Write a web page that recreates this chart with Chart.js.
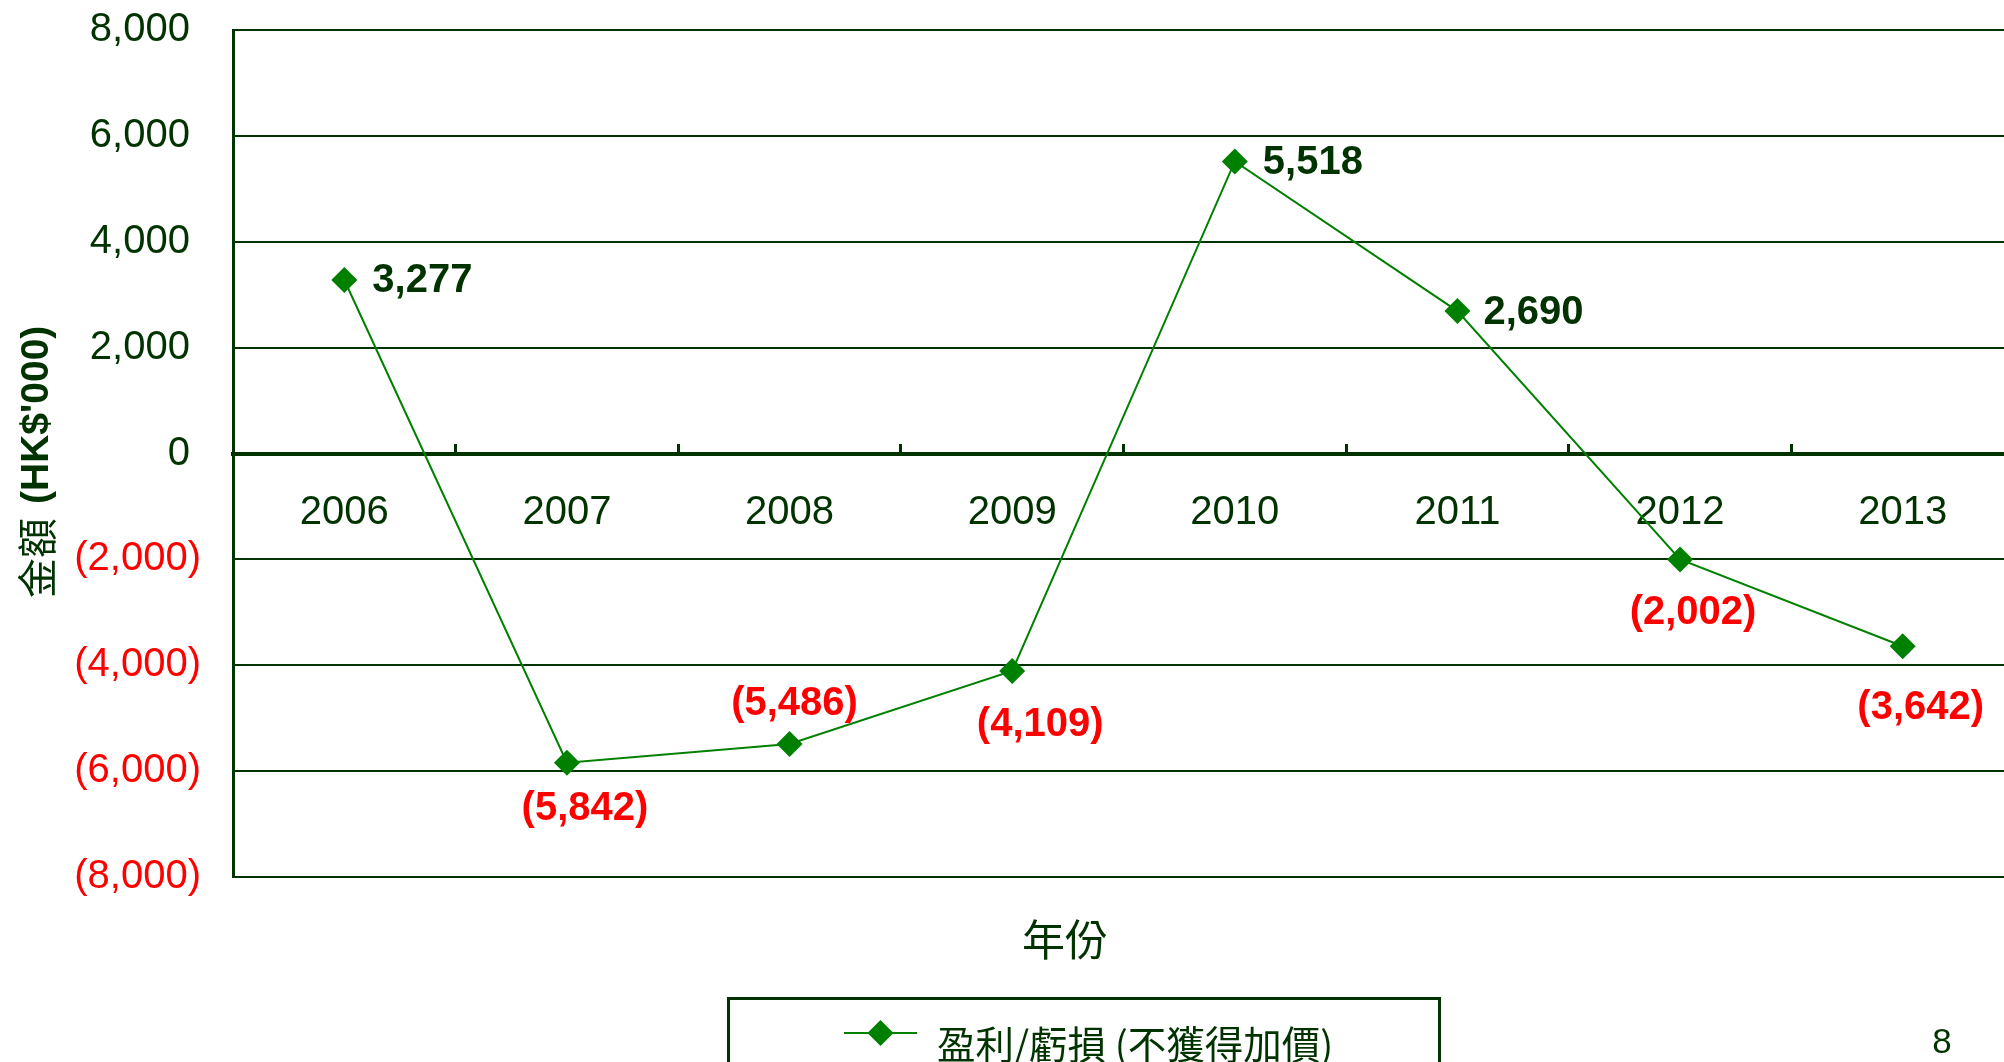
<!DOCTYPE html>
<html>
<head>
<meta charset="utf-8">
<script src="https://cdn.jsdelivr.net/npm/chart.js@4.4.0/dist/chart.umd.min.js"></script>
<style>
  html, body { margin: 0; padding: 0; background: #fff; overflow: hidden; }
  #wrap { position: relative; width: 2004px; height: 1062px; overflow: hidden; }
  #chartBox { position: absolute; left: 0; top: 0; width: 2027px; height: 1062px; }
  #xTitle { position: absolute; left: 1065px; top: 937px; transform: translate(-50%, -50%);
            font: 43px "Noto Sans CJK TC", sans-serif; color: #003300; white-space: nowrap; }
  #legendBox { position: absolute; left: 727px; top: 997px; width: 708px; height: 120px;
               border: 3px solid #003300; }
  #legendIcon { position: absolute; left: 114px; top: 18px; }
  #legendText { position: absolute; left: 207px; top: 14px; height: 40px; line-height: 40px;
                font: 38.5px "Noto Sans CJK TC", sans-serif; color: #003300; white-space: nowrap; }
  #pageNo { position: absolute; left: 1942px; top: 1041px; transform: translate(-50%, -50%);
            font: 35px "Liberation Sans", Arial, sans-serif; color: #003300; }
</style>
</head>
<body>
<div id="wrap">
  <div id="chartBox"><canvas id="chart"></canvas></div>
  <div id="xTitle">年份</div>
  <div id="legendBox">
    <svg id="legendIcon" width="73" height="30">
      <line x1="0" y1="15" x2="73" y2="15" stroke="#008000" stroke-width="2"/>
      <polygon points="23.5,15 36.5,2 49.5,15 36.5,28" fill="#008000"/>
    </svg>
    <div id="legendText">盈利/虧損 (不獲得加價)</div>
  </div>
  <div id="pageNo">8</div>
</div>

<script>
// chart data
const years = ['2006', '2007', '2008', '2009', '2010', '2011', '2012', '2013'];
const profitLoss = [3277, -5842, -5486, -4109, 5518, 2690, -2002, -3642];
const seriesName = '盈利/虧損 (不獲得加價)';
const yMin = -8000;
const yMax = 8000;
const yStep = 2000;

const darkGreen = '#003300';
const lineGreen = '#008000';
const numFont = '"Liberation Sans", Arial, sans-serif';

// accounting style: negatives in brackets
function fmt(v) {
  const s = Math.abs(v).toLocaleString('en-US');
  return v < 0 ? '(' + s + ')' : s;
}

// where each value label sits relative to its point: [dx, dy, align]
const labelOffsets = [
  [28, 1, 'left'], [18, 46, 'center'], [5, -40, 'center'], [28, 54, 'center'],
  [28, 2, 'left'], [26, 2, 'left'], [13, 53, 'center'], [18, 62, 'center']
];

const valueLabels = {
  id: 'valueLabels',
  afterDatasetsDraw(chart) {
    const ctx = chart.ctx;
    const meta = chart.getDatasetMeta(0);
    const data = chart.data.datasets[0].data;
    ctx.save();
    ctx.font = 'bold 40px ' + numFont;
    ctx.textBaseline = 'middle';
    meta.data.forEach((pt, i) => {
      const [dx, dy, align] = labelOffsets[i];
      ctx.fillStyle = data[i] < 0 ? '#ff0000' : darkGreen;
      ctx.textAlign = align;
      ctx.fillText(fmt(data[i]), pt.x + dx, pt.y + dy);
    });
    ctx.restore();
  }
};

// y axis title: CJK part regular, bracket part bold
const yTitle = {
  id: 'yTitle',
  afterDraw(chart) {
    const ctx = chart.ctx;
    ctx.save();
    ctx.translate(37, 598);
    ctx.rotate(-Math.PI / 2);
    ctx.textBaseline = 'middle';
    ctx.textAlign = 'left';
    ctx.fillStyle = darkGreen;
    ctx.font = '40px "Noto Sans CJK TC"';
    ctx.fillText('金額', 0, 0);
    const w = ctx.measureText('金額').width + 14;
    ctx.font = 'bold 39px ' + numFont;
    ctx.fillText("(HK$'000)", w, 0);
    ctx.restore();
  }
};

const ctx = document.getElementById('chart').getContext('2d');
new Chart(ctx, {
  type: 'line',
  data: {
    labels: years,
    datasets: [{
      label: seriesName,
      data: profitLoss,
      borderColor: lineGreen,
      backgroundColor: lineGreen,
      borderWidth: 2,
      tension: 0,
      fill: false,
      pointStyle: 'rectRot',
      pointRadius: 13,
      pointHoverRadius: 13,
      pointBorderWidth: 0,
      pointBackgroundColor: lineGreen
    }]
  },
  options: {
    responsive: true,
    maintainAspectRatio: false,
    animation: false,
    layout: { padding: { left: 0, top: 30, right: 4, bottom: 185 } },
    plugins: {
      legend: { display: false },
      tooltip: { enabled: false }
    },
    scales: {
      x: {
        type: 'category',
        position: { y: 0 },
        offset: true,
        grid: {
          offset: true,
          drawOnChartArea: false,
          drawTicks: true,
          tickLength: -12,
          tickWidth: 3,
          tickColor: darkGreen
        },
        border: { display: true, color: darkGreen, width: 4 },
        ticks: {
          padding: 47,
          color: darkGreen,
          font: { family: numFont, size: 40 }
        },
        afterFit(scale) {
          scale.paddingLeft = 0;
          scale.paddingRight = 0;
        }
      },
      y: {
        min: yMin,
        max: yMax,
        ticks: {
          stepSize: yStep,
          padding: 32,
          font: { family: numFont, size: 40 },
          color: c => c.tick.value < 0 ? '#ff0000' : darkGreen,
          callback: v => v < 0 ? fmt(v) : fmt(v) + ' '
        },
        grid: { color: darkGreen, lineWidth: 2, drawTicks: false },
        border: { display: true, color: darkGreen, width: 3 },
        afterFit(scale) {
          scale.width = 233;
          scale.paddingTop = 0;
          scale.paddingBottom = 0;
        }
      }
    }
  },
  plugins: [valueLabels, yTitle]
});
</script>
</body>
</html>
